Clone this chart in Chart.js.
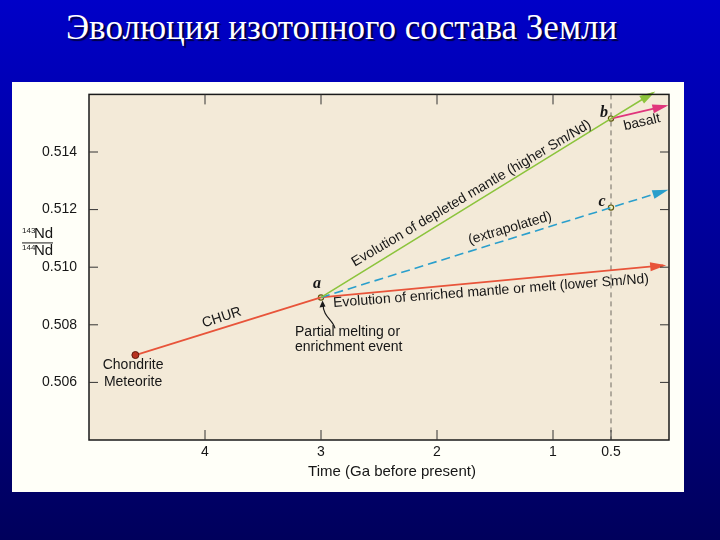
<!DOCTYPE html>
<html>
<head>
<meta charset="utf-8">
<script src="https://cdn.jsdelivr.net/npm/chart.js@4.4.0/dist/chart.umd.min.js"></script>
<style>
  html, body { margin: 0; padding: 0; }
  body {
    width: 720px; height: 540px; position: relative; overflow: hidden;
    background: linear-gradient(#0000c8, #00005c);
  }
  #titulo {
    position: absolute; left: 66px; top: 8px;
    font-family: "Liberation Serif", "Times New Roman", serif;
    font-size: 35px; color: #ffffff; white-space: nowrap;
    text-shadow: 2px 2px 1px #000040;
  }
  #panel {
    position: absolute; left: 12px; top: 82px; width: 672px; height: 410px;
    background: #fffff8;
  }
  canvas { display: block; }
</style>
</head>
<body>
<div id="titulo">Эволюция изотопного состава Земли</div>
<div id="panel"><canvas id="grafica" width="672" height="410"></canvas></div>
<script>
// ===== DATOS (tiempo en Ga antes del presente, razón 143Nd/144Nd) =====
const tiempoChur = [4.6, 3.0];
const ndChur = [0.50695, 0.50895];

const tiempoEnriquecido = [3.0, 0.05];
const ndEnriquecido = [0.50895, 0.51006];

const tiempoEmpobrecido = [3.0, 0.5, 0.14];
const ndEmpobrecido = [0.50895, 0.51516, 0.51605];

const tiempoExtrapolado = [3.0, 0.5, 0.03];
const ndExtrapolado = [0.50895, 0.51207, 0.51266];

const tiempoBasalto = [0.5, 0.03];
const ndBasalto = [0.51516, 0.5156];

const tiempoPuntos = [3.0, 0.5, 0.5];
const ndPuntos = [0.50895, 0.51516, 0.51207];
const letrasPuntos = ['a', 'b', 'c'];

const ticksTiempo = [4, 3, 2, 1, 0.5];
const ticksNd = [0.506, 0.508, 0.510, 0.512, 0.514];

// Textos sobre la gráfica: posición en coordenadas de datos
const notas = [
  { texto: 'CHUR', t: 3.856, nd: 0.50825, ang: -18 },
  { texto: 'Chondrite', t: 4.62, nd: 0.50659, ang: 0 },
  { texto: 'Meteorite', t: 4.62, nd: 0.50600, ang: 0 },
  { texto: 'Evolution of enriched mantle or melt (lower Sm/Nd)', t: 1.534, nd: 0.50917, ang: -4.4 },
  { texto: '(extrapolated)', t: 1.371, nd: 0.51135, ang: -16.5 },
  { texto: 'Evolution of depleted mantle (higher Sm/Nd)', t: 1.703, nd: 0.51256, ang: -30.5 },
  { texto: 'basalt', t: 0.233, nd: 0.51503, ang: -13 }
];
const notasIzq = [
  { texto: 'Partial melting or', t: 3.224, nd: 0.50776 },
  { texto: 'enrichment event', t: 3.224, nd: 0.50721 }
];
const posLetras = [
  { t: 3.034, nd: 0.50941 },
  { t: 0.56, nd: 0.51537 },
  { t: 0.578, nd: 0.51227 }
];

const rojo = '#e8543a';
const verde = '#8cc43c';
const cian = '#2a9fcc';
const rosa = '#e0357c';
const fuente = '"Liberation Sans", Arial, sans-serif';

function serie(xs, ys) {
  return xs.map((x, i) => ({ x: x, y: ys[i] }));
}

// ========== PLUGIN DE DECORACIÓN ==========
const decoracion = {
  id: 'decoracion',
  beforeDraw(chart) {
    const { ctx, chartArea: a } = chart;
    ctx.save();
    ctx.fillStyle = '#f3ead8';
    ctx.fillRect(a.left, a.top, a.right - a.left, a.bottom - a.top);
    // línea vertical discontinua en 0.5 Ga
    const x05 = chart.scales.x.getPixelForValue(0.5);
    ctx.strokeStyle = '#6e6a62';
    ctx.lineWidth = 1;
    ctx.setLineDash([5, 4]);
    ctx.beginPath();
    ctx.moveTo(x05, a.top);
    ctx.lineTo(x05, a.bottom);
    ctx.stroke();
    ctx.restore();
  },
  afterDatasetsDraw(chart) {
    const { ctx, chartArea: a, scales } = chart;
    const sx = scales.x, sy = scales.y;
    ctx.save();

    // flechas al final de las series
    chart.data.datasets.forEach((ds, i) => {
      if (!ds.flecha) return;
      const pts = chart.getDatasetMeta(i).data;
      const p1 = pts[pts.length - 2], p2 = pts[pts.length - 1];
      const ang = Math.atan2(p2.y - p1.y, p2.x - p1.x);
      const largo = 13, ancho = 4.5;
      ctx.fillStyle = ds.borderColor;
      ctx.beginPath();
      ctx.moveTo(p2.x + Math.cos(ang) * 3, p2.y + Math.sin(ang) * 3);
      ctx.lineTo(p2.x - Math.cos(ang) * largo - Math.sin(ang) * ancho,
                 p2.y - Math.sin(ang) * largo + Math.cos(ang) * ancho);
      ctx.lineTo(p2.x - Math.cos(ang) * largo + Math.sin(ang) * ancho,
                 p2.y - Math.sin(ang) * largo - Math.cos(ang) * ancho);
      ctx.closePath();
      ctx.fill();
    });

    // marco
    ctx.strokeStyle = '#1a1a1a';
    ctx.lineWidth = 1.5;
    ctx.strokeRect(a.left, a.top, a.right - a.left, a.bottom - a.top);

    // marcas hacia dentro
    ctx.lineWidth = 1;
    ctx.strokeStyle = '#333';
    ctx.beginPath();
    ticksNd.forEach(v => {
      const y = sy.getPixelForValue(v);
      ctx.moveTo(a.left, y); ctx.lineTo(a.left + 9, y);
      ctx.moveTo(a.right, y); ctx.lineTo(a.right - 9, y);
    });
    ticksTiempo.forEach(v => {
      const x = sx.getPixelForValue(v);
      if (v !== 0.5) {
        ctx.moveTo(x, a.top); ctx.lineTo(x, a.top + 10);
      }
      ctx.moveTo(x, a.bottom); ctx.lineTo(x, a.bottom - 10);
    });
    ctx.stroke();

    // textos
    ctx.fillStyle = '#161616';
    ctx.font = '14px ' + fuente;
    ctx.textAlign = 'center';
    ctx.textBaseline = 'middle';
    notas.forEach(n => {
      ctx.save();
      ctx.translate(sx.getPixelForValue(n.t), sy.getPixelForValue(n.nd));
      ctx.rotate(n.ang * Math.PI / 180);
      ctx.fillText(n.texto, 0, 0);
      ctx.restore();
    });
    ctx.textAlign = 'left';
    notasIzq.forEach(n => {
      ctx.fillText(n.texto, sx.getPixelForValue(n.t), sy.getPixelForValue(n.nd));
    });

    // letras a, b, c
    ctx.textAlign = 'center';
    ctx.font = 'italic bold 16px "Liberation Serif", "Times New Roman", serif';
    posLetras.forEach((p, i) => {
      ctx.fillText(letrasPuntos[i], sx.getPixelForValue(p.t), sy.getPixelForValue(p.nd));
    });

    // flechita curva desde el texto hasta el punto a
    const ax = sx.getPixelForValue(tiempoPuntos[0]);
    const ay = sy.getPixelForValue(ndPuntos[0]);
    ctx.strokeStyle = '#1a1a1a';
    ctx.lineWidth = 1.2;
    ctx.beginPath();
    ctx.moveTo(ax + 14, ay + 31);
    ctx.bezierCurveTo(ax + 12, ay + 22, ax + 2, ay + 20, ax + 2, ay + 6);
    ctx.stroke();
    ctx.fillStyle = '#1a1a1a';
    ctx.beginPath();
    ctx.moveTo(ax + 1.5, ay + 3);
    ctx.lineTo(ax - 1.5, ay + 10);
    ctx.lineTo(ax + 4.5, ay + 9);
    ctx.closePath();
    ctx.fill();

    // título del eje x
    ctx.font = '15px ' + fuente;
    ctx.textAlign = 'center';
    ctx.textBaseline = 'middle';
    ctx.fillStyle = '#161616';
    ctx.fillText('Time (Ga before present)', sx.getPixelForValue(2.388), a.bottom + 32);

    // título del eje y: 143Nd / 144Nd
    const cx = a.left - 52;
    const cy = sy.getPixelForValue(0.51086);
    ctx.textAlign = 'left';
    ctx.textBaseline = 'alphabetic';
    ctx.font = '8px ' + fuente;
    ctx.fillText('143', cx - 15, cy - 9);
    ctx.fillText('144', cx - 15, cy + 8);
    ctx.font = '15px ' + fuente;
    ctx.fillText('Nd', cx - 3, cy - 4);
    ctx.fillText('Nd', cx - 3, cy + 13);
    ctx.lineWidth = 1;
    ctx.beginPath();
    ctx.moveTo(cx - 15, cy + 0.5);
    ctx.lineTo(cx + 16, cy + 0.5);
    ctx.stroke();

    ctx.restore();
  }
};

// ========== CREAR GRÁFICA ==========
const ctx = document.getElementById('grafica');
new Chart(ctx, {
  type: 'line',
  data: {
    datasets: [
      {
        label: 'Depleted mantle',
        data: serie(tiempoEmpobrecido, ndEmpobrecido),
        borderColor: verde, borderWidth: 1.6,
        pointRadius: 0, flecha: true
      },
      {
        label: 'Extrapolated',
        data: serie(tiempoExtrapolado, ndExtrapolado),
        borderColor: cian, borderWidth: 1.6, borderDash: [9, 5],
        pointRadius: 0, flecha: true
      },
      {
        label: 'Basalt',
        data: serie(tiempoBasalto, ndBasalto),
        borderColor: rosa, borderWidth: 1.8,
        pointRadius: 0, flecha: true
      },
      {
        label: 'Enriched mantle',
        data: serie(tiempoEnriquecido, ndEnriquecido),
        borderColor: rojo, borderWidth: 1.8,
        pointRadius: 0, flecha: true
      },
      {
        label: 'CHUR',
        data: serie(tiempoChur, ndChur),
        borderColor: rojo, borderWidth: 1.8,
        pointRadius: [3.5, 0],
        pointBackgroundColor: '#b8321f',
        pointBorderColor: '#5e180c',
        pointBorderWidth: 1
      },
      {
        label: 'Puntos',
        data: serie(tiempoPuntos, ndPuntos),
        showLine: false,
        pointRadius: 2.6,
        pointBackgroundColor: '#f4f1c6',
        pointBorderColor: '#5f5a12',
        pointBorderWidth: 1.2
      }
    ]
  },
  options: {
    responsive: false,
    animation: false,
    events: [],
    layout: { padding: { top: 10, right: 15, left: 0, bottom: 0 } },
    plugins: {
      legend: { display: false },
      tooltip: { enabled: false }
    },
    elements: { line: { tension: 0 } },
    datasets: { line: { clip: false } },
    scales: {
      x: {
        type: 'linear', min: 0, max: 5, reverse: true,
        afterBuildTicks: s => { s.ticks = ticksTiempo.map(v => ({ value: v })); },
        afterFit: s => { s.height = 52; },
        grid: { display: false },
        border: { display: false },
        ticks: { font: { size: 14, family: fuente }, color: '#161616', padding: -4, maxRotation: 0, autoSkip: false }
      },
      y: {
        type: 'linear', min: 0.504, max: 0.516,
        afterBuildTicks: s => { s.ticks = ticksNd.map(v => ({ value: v })); },
        afterFit: s => { s.width = 77; },
        grid: { display: false },
        border: { display: false },
        ticks: {
          font: { size: 14, family: fuente }, color: '#161616', padding: 4,
          callback: v => v.toFixed(3)
        }
      }
    }
  },
  plugins: [decoracion]
});
</script>
</body>
</html>
